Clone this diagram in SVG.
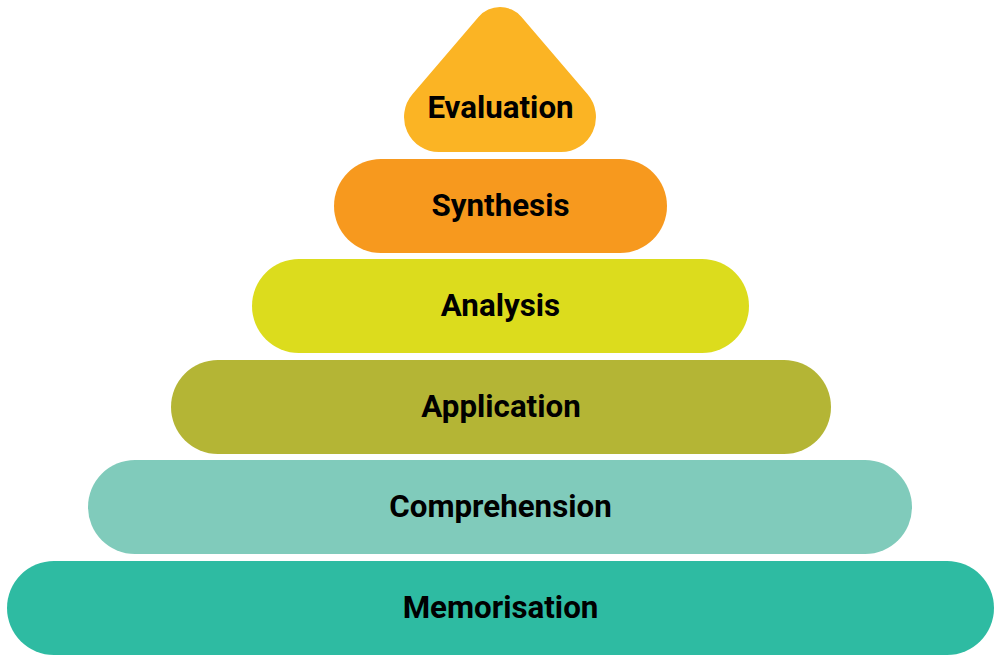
<svg xmlns="http://www.w3.org/2000/svg" width="1000" height="661" viewBox="0 0 1000 661">
<style>
  .lbl { font-family: Roboto, "Liberation Sans", sans-serif; font-weight: 700; font-size: 31.3px; fill: #000; text-anchor: middle; }
</style>
<rect width="1000" height="661" fill="#ffffff"/>
<g id="memorisation">
  <rect x="7" y="561" width="987" height="94" rx="47" ry="47" fill="#2EBBA2"/>
  <text class="lbl" x="500.5" y="618">Memorisation</text>
</g>
<g id="comprehension">
  <rect x="88" y="460" width="824" height="94" rx="47" ry="47" fill="#80CBBB"/>
  <text class="lbl" x="500.5" y="517">Comprehension</text>
</g>
<g id="application">
  <rect x="171" y="360" width="660" height="94" rx="47" ry="47" fill="#B4B535"/>
  <text class="lbl" x="501" y="417">Application</text>
</g>
<g id="analysis">
  <rect x="252" y="259" width="497" height="94" rx="47" ry="47" fill="#DCDC1D"/>
  <text class="lbl" x="500.5" y="316">Analysis</text>
</g>
<g id="synthesis">
  <rect x="334" y="159" width="333" height="94" rx="47" ry="47" fill="#F7991E"/>
  <text class="lbl" x="500.5" y="216">Synthesis</text>
</g>
<g id="evaluation">
  <path d="M 439,152 A 35 35 0 0 1 412.4,94.3 L 478.7,16.8 A 28 28 0 0 1 521.3,16.8 L 587.6,94.3 A 35 35 0 0 1 561,152 Z" fill="#FBB424"/>
  <text class="lbl" x="500.5" y="118">Evaluation</text>
</g>
<g id="connectors"></g>
</svg>
